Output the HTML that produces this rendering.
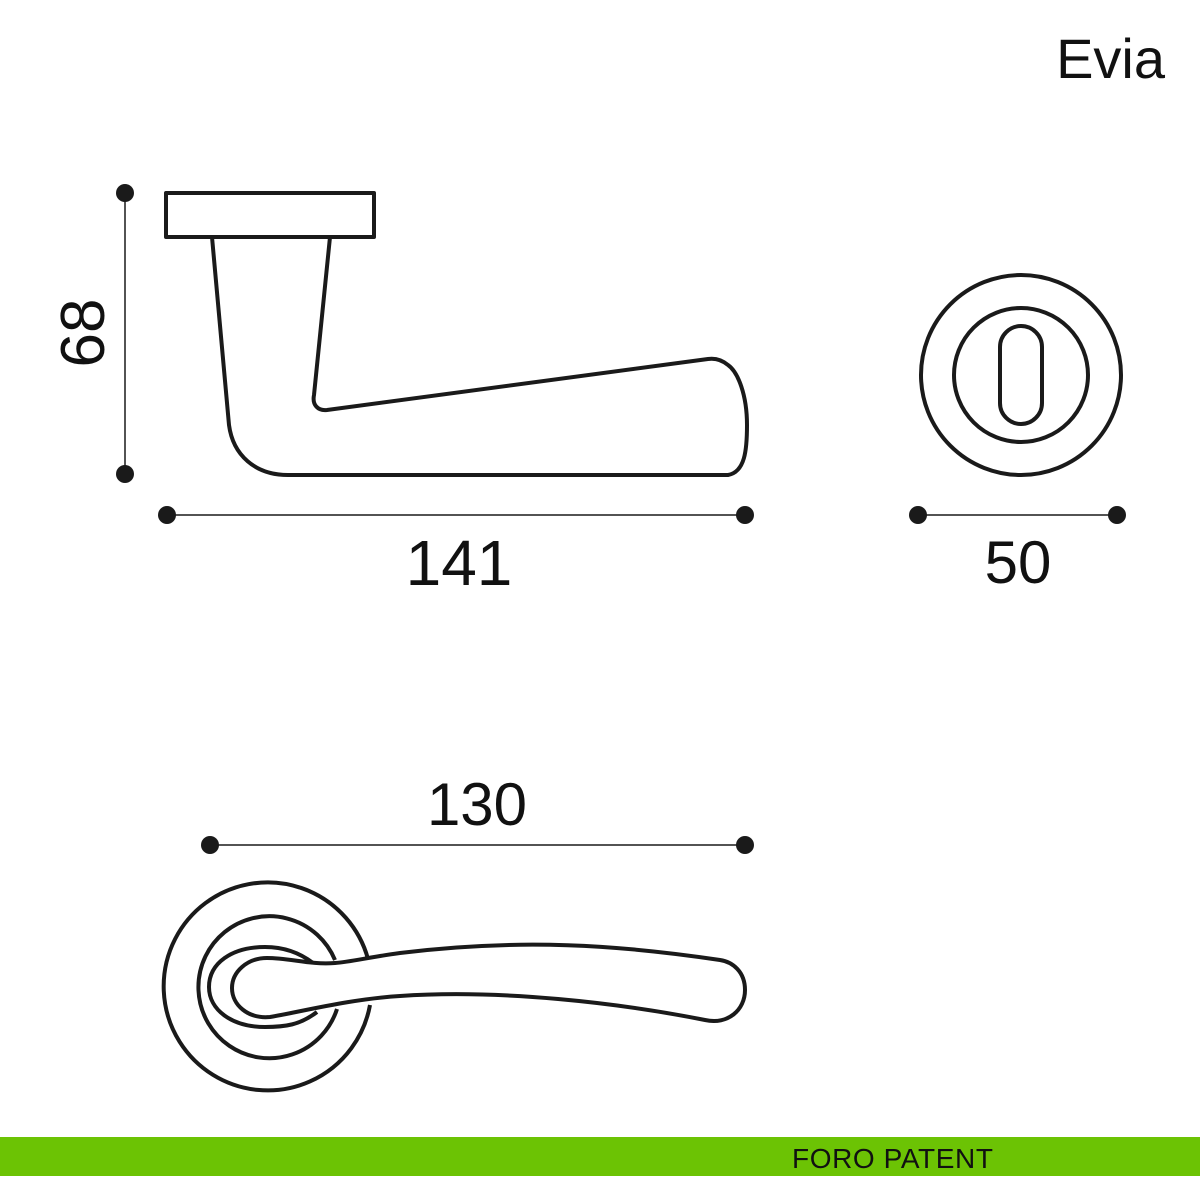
<!DOCTYPE html>
<html><head><style>
html,body{margin:0;padding:0;background:#fff;}
body{width:1200px;height:1200px;position:relative;overflow:hidden;font-family:"Liberation Sans",sans-serif;}
</style></head><body>
<svg width="1200" height="1200" viewBox="0 0 1200 1200" xmlns="http://www.w3.org/2000/svg" style="position:absolute;left:0;top:0">
<g fill="none" stroke="#1a1a1a" stroke-width="4" stroke-linejoin="round">
<rect x="166" y="193" width="208" height="44"/>
<path d="M212,237 L229,425 C233,455 255,475 288,475 L728,475 C745,472 747,450 747,425 C747,395 738,372 728,365 C722,360 715,358 708,359 L327,410 C318,411 312,405 314,395 L330,237"/>
<circle cx="1021" cy="375" r="100"/>
<circle cx="1021" cy="375" r="67"/>
<rect x="1000" y="326" width="42" height="98" rx="21"/>
<path d="M370,1005 A104,104 0 1 1 368,959"/>
<path d="M337,1009 A71,71 0 1 1 335,960"/>
<path d="M317,1012 C300,1025 285,1027 265,1027 C232,1027 209,1010 209,987 C209,963 232,947 265,947 C285,947 300,953 313,963"/>
<path d="M400,953 C370,957 350,962 335,963 C310,965 290,958 267,958 C247,958 232,972 232,988 C232,1005 248,1019 270,1017 C300,1012 350,999 400,996 C500,989 620,1003 705,1020 C728,1025 745,1010 745,990 C745,972 733,962 720,960 C620,945 520,938 400,953 Z"/>
</g>
<g stroke="#1a1a1a" stroke-width="1.5">
<line x1="125" y1="193" x2="125" y2="474"/>
<line x1="167" y1="515" x2="745" y2="515"/>
<line x1="918" y1="515" x2="1117" y2="515"/>
<line x1="210" y1="845" x2="745" y2="845"/>
</g>
<g fill="#1a1a1a">
<circle cx="125" cy="193" r="9"/><circle cx="125" cy="474" r="9"/>
<circle cx="167" cy="515" r="9"/><circle cx="745" cy="515" r="9"/>
<circle cx="918" cy="515" r="9"/><circle cx="1117" cy="515" r="9"/>
<circle cx="210" cy="845" r="9"/><circle cx="745" cy="845" r="9"/>
</g>
<g font-family="Liberation Sans, sans-serif" fill="#111">
<text x="1165" y="78" font-size="56" text-anchor="end">Evia</text>
<text x="459" y="585" font-size="64" text-anchor="middle">141</text>
<text x="1018" y="583" font-size="60" text-anchor="middle">50</text>
<text x="477" y="825" font-size="60" text-anchor="middle">130</text>
<text transform="translate(104,333) rotate(-90)" font-size="62" text-anchor="middle">68</text>
</g>
<rect x="0" y="1137" width="1200" height="39" fill="#6cc304"/>
<text x="792" y="1168" font-family="Liberation Sans, sans-serif" font-size="28" letter-spacing="0.6" fill="#111">FORO PATENT</text>
</svg>
</body></html>
